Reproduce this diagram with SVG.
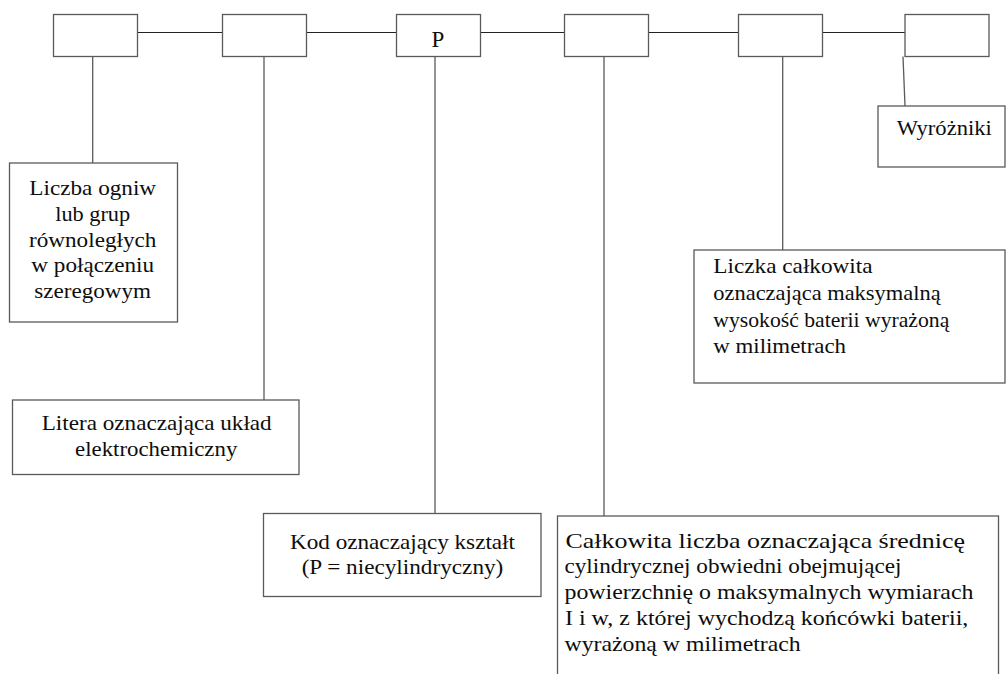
<svg xmlns="http://www.w3.org/2000/svg" width="1006" height="674" viewBox="0 0 1006 674">
<style>
.box{fill:#fff;stroke:#5a5a5a;stroke-width:1.3}
.h{stroke:#222;stroke-width:1.1;fill:none}
.v{stroke:#5a5a5a;stroke-width:1.3;fill:none}
.c{text-anchor:middle}
</style>
<rect width="1006" height="674" fill="#fff"/>
<g id="connectors">
<line class="h" x1="137.5" y1="32.5" x2="222.5" y2="32.5"/>
<line class="h" x1="306.5" y1="32.5" x2="396.5" y2="32.5"/>
<line class="h" x1="480.5" y1="32.5" x2="564.5" y2="32.5"/>
<line class="h" x1="648.5" y1="32.5" x2="738.5" y2="32.5"/>
<line class="h" x1="822.5" y1="32.5" x2="905" y2="32.5"/>
<line class="v" x1="92.7" y1="56.5" x2="92.7" y2="163"/>
<line class="v" x1="264" y1="56.5" x2="264" y2="400"/>
<line class="v" x1="435" y1="56.5" x2="435" y2="513.5"/>
<line class="v" x1="604" y1="56.5" x2="604" y2="516"/>
<line class="v" x1="782.7" y1="56.5" x2="782.7" y2="250"/>
<line class="v" x1="903" y1="56.5" x2="905" y2="106"/>
</g>
<g font-family="'Liberation Serif', 'Times New Roman', serif" font-size="21" fill="#0d0d0d">
<g id="top1"><rect class="box" x="53.5" y="14.5" width="84" height="42"/></g>
<g id="top2"><rect class="box" x="222.5" y="14.5" width="84" height="42"/></g>
<g id="top3"><rect class="box" x="396.5" y="14.5" width="84" height="42"/><text class="c" x="438" y="46.5" font-size="23">P</text></g>
<g id="top4"><rect class="box" x="564.5" y="14.5" width="84" height="42"/></g>
<g id="top5"><rect class="box" x="738.5" y="14.5" width="84" height="42"/></g>
<g id="top6"><rect class="box" x="905" y="14.5" width="84" height="42"/></g>
<g id="liczba">
<rect class="box" x="9.5" y="163" width="168" height="159"/>
<text class="c" x="92.7" y="195" textLength="126.7" lengthAdjust="spacingAndGlyphs">Liczba ogniw</text>
<text class="c" x="92.7" y="221" textLength="75" lengthAdjust="spacingAndGlyphs">lub grup</text>
<text class="c" x="92.7" y="246.5" textLength="127.3" lengthAdjust="spacingAndGlyphs">równoległych</text>
<text class="c" x="92.7" y="272" textLength="122.7" lengthAdjust="spacingAndGlyphs">w połączeniu</text>
<text class="c" x="92.7" y="298" textLength="116.7" lengthAdjust="spacingAndGlyphs">szeregowym</text>
</g>
<g id="litera">
<rect class="box" x="12.5" y="400" width="286.5" height="74.5"/>
<text class="c" x="156.7" y="430" textLength="230" lengthAdjust="spacingAndGlyphs">Litera oznaczająca układ</text>
<text class="c" x="156.2" y="455.5" textLength="162.3" lengthAdjust="spacingAndGlyphs">elektrochemiczny</text>
</g>
<g id="kod">
<rect class="box" x="263.5" y="513.5" width="277.5" height="83"/>
<text class="c" x="402.5" y="548.5" textLength="225" lengthAdjust="spacingAndGlyphs">Kod oznaczający kształt</text>
<text class="c" x="402.5" y="574" textLength="201.7" lengthAdjust="spacingAndGlyphs">(P = niecylindryczny)</text>
</g>
<g id="calkowita">
<rect class="box" x="557.5" y="516" width="441" height="170"/>
<text x="565.5" y="547.5" textLength="399.5" lengthAdjust="spacingAndGlyphs">Całkowita liczba oznaczająca średnicę</text>
<text x="564.5" y="573.3" textLength="337" lengthAdjust="spacingAndGlyphs">cylindrycznej obwiedni obejmującej</text>
<text x="564.5" y="599.3" textLength="409" lengthAdjust="spacingAndGlyphs">powierzchnię o maksymalnych wymiarach</text>
<text x="565" y="625" textLength="403.3" lengthAdjust="spacingAndGlyphs">I i w, z której wychodzą końcówki baterii,</text>
<text x="564.5" y="650.5" textLength="236.2" lengthAdjust="spacingAndGlyphs">wyrażoną w milimetrach</text>
</g>
<g id="liczka">
<rect class="box" x="694" y="250" width="311" height="133"/>
<text x="713.3" y="273.3" textLength="159.3" lengthAdjust="spacingAndGlyphs">Liczka całkowita</text>
<text x="713.3" y="300" textLength="227.3" lengthAdjust="spacingAndGlyphs">oznaczająca maksymalną</text>
<text x="713.3" y="326.7" textLength="236" lengthAdjust="spacingAndGlyphs">wysokość baterii wyrażoną</text>
<text x="713.3" y="353.3" textLength="132.7" lengthAdjust="spacingAndGlyphs">w milimetrach</text>
</g>
<g id="wyrozniki">
<rect class="box" x="878" y="106" width="127" height="61"/>
<text class="c" x="944.2" y="135" textLength="95" lengthAdjust="spacingAndGlyphs">Wyróżniki</text>
</g>
</g>
</svg>
